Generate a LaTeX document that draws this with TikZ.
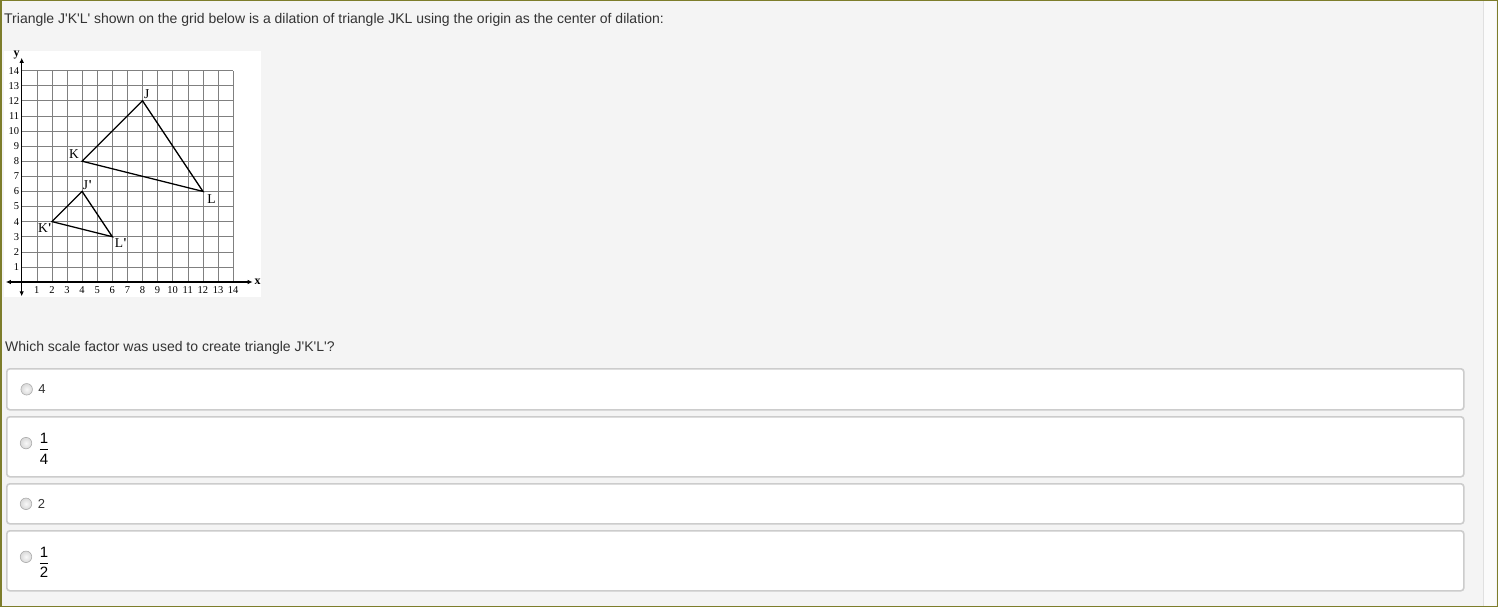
\documentclass[tikz,border=0pt]{standalone}
\usepackage{fontspec}
\setmainfont{Liberation Sans}
\newfontfamily\gridfont{Liberation Serif}
\usetikzlibrary{positioning, arrows.meta}
\newcommand{\aps}{\textquotesingle}
\definecolor{pagebg}{HTML}{F4F4F4}
\definecolor{frameolive}{HTML}{7D7D2B}
\definecolor{boxline}{HTML}{CCCCCC}
\definecolor{qtext}{HTML}{333333}
\tikzset{
    qtext/.style={ % question texts
        text=qtext,
        inner sep=0pt,
        font=\fontsize{14}{16}\selectfont
    },
    otext/.style={ % answer texts
        text=qtext,
        inner sep=0pt,
        font=\fontsize{13}{15}\selectfont
    },
    optbox/.style={ % one answer row
        draw=boxline, line width=1.6pt, fill=white,
        rounded corners=3pt,
        minimum width=1457pt,
        anchor=north west, inner sep=0pt
    },
    radio/.style={
        circle, draw=gray!65, line width=0.6pt,
        inner sep=0pt, minimum size=11.5pt,
        inner color=gray!5, outer color=gray!30
    },
    fracnum/.style={
        text=black, inner sep=0pt,
        font=\fontsize{15}{17}\selectfont
    }
}

\begin{document}
\begin{tikzpicture}[x=1pt,y=-1pt]
    \tikzset{
        gridline/.style={black!50, line width=0.6pt},
        axisline/.style={black, line width=1.4pt, {Latex[length=5pt,width=4.5pt]}-{Latex[length=5pt,width=4.5pt]}},
        tri/.style={black, line width=1.3pt},
        ticklbl/.style={font=\gridfont\fontsize{10.5}{10.5}\selectfont, inner sep=0pt},
        ptlbl/.style={font=\gridfont\fontsize{13.5}{14}\selectfont, inner sep=0pt},
        axlbl/.style={font=\gridfont\bfseries\fontsize{12}{12}\selectfont, inner sep=0pt}
    }
    \useasboundingbox (0,0) rectangle (1498,607);
    \fill[pagebg] (0,0) rectangle (1498,607);
    \fill[white!65!pagebg] (1483,1) rectangle (1496,606);
    \draw[black!12] (1483,1) -- (1483,606);
    \draw[frameolive, line width=1.5pt] (0.75,0.75) rectangle (1497.25,606.25);

    \node[qtext, anchor=west] (title) at (4,20)
        {Triangle J\aps K\aps L\aps\ shown on the grid below is a dilation of triangle JKL using the origin as the center of dilation:};

    % grid picture
    \fill[white] (4,51) rectangle (261,297);
    \begin{scope}[shift={(21.7,282)}, x=15.1pt, y=15.1pt]
        \draw[gridline, step=1] (0,0) grid (14,14);
        \coordinate (xl) at (-1.05,0);
        \coordinate (xr) at (15.3,0);
        \coordinate (yb) at (0,-0.95);
        \coordinate (yt) at (0,14.85);
        \draw[axisline] (xl) -- (xr);
        \draw[axisline] (yb) -- (yt);
        \node[axlbl] (xname) at (15.62,0) {x};
        \node[axlbl] (yname) at (-0.33,15.05) {y};
        \foreach \i in {1,...,14} {
            \node[ticklbl] (xt\i) at (\i,-0.55) {\i};
            \node[ticklbl, anchor=east] (yt\i) at (-0.15,\i) {\i};
        }
        \coordinate (J) at (8,12);
        \coordinate (K) at (4,8);
        \coordinate (L) at (12,6);
        \coordinate (Jp) at (4,6);
        \coordinate (Kp) at (2,4);
        \coordinate (Lp) at (6,3);
        \draw[tri] (J) -- (K) -- (L) -- cycle;
        \draw[tri] (Jp) -- (Kp) -- (Lp) -- cycle;
        \node[ptlbl] (lJ) at ([shift={(4.2pt,6.5pt)}]J) {J};
        \node[ptlbl] (lK) at ([shift={(-8.1pt,6.9pt)}]K) {K};
        \node[ptlbl] (lL) at ([shift={(8.7pt,-7.5pt)}]L) {L};
        \node[ptlbl] (lJp) at ([shift={(5.4pt,6pt)}]Jp) {J\textbf{\aps}};
        \node[ptlbl] (lKp) at ([shift={(-7pt,-6.4pt)}]Kp) {K\textbf{\aps}};
        \node[ptlbl] (lLp) at ([shift={(8.5pt,-6.3pt)}]Lp) {L\textbf{\aps}};
    \end{scope}

    \node[qtext, anchor=west] (question) at (5,348)
        {Which scale factor was used to create triangle J\aps K\aps L\aps?};

    % answer rows
    \node[optbox, minimum height=41pt] (box1) at (6,368) {};
    \node[radio] (r1) at ([xshift=20.7pt]box1.west) {};
    \node[otext, right=5.5pt of r1] (o1) {4};

    \node[optbox, minimum height=60pt] (box2) at (6,416) {};
    \node[radio] (r2) at ([shift={(20pt,3.7pt)}]box2.west) {};
    \node[fracnum, right=6.5pt of r2, yshift=-5.5pt] (o2) {$\displaystyle{\mbox{1}\above1.2pt\mbox{4}}$};

    \node[optbox, minimum height=40pt] (box3) at (6,483) {};
    \node[radio] (r3) at ([xshift=20pt]box3.west) {};
    \node[otext, right=5.5pt of r3] (o3) {2};

    \node[optbox, minimum height=60pt] (box4) at (6,530) {};
    \node[radio] (r4) at ([shift={(20pt,4pt)}]box4.west) {};
    \node[fracnum, right=6.5pt of r4, yshift=-5.6pt] (o4) {$\displaystyle{\mbox{1}\above1.2pt\mbox{2}}$};
\end{tikzpicture}
\end{document}
